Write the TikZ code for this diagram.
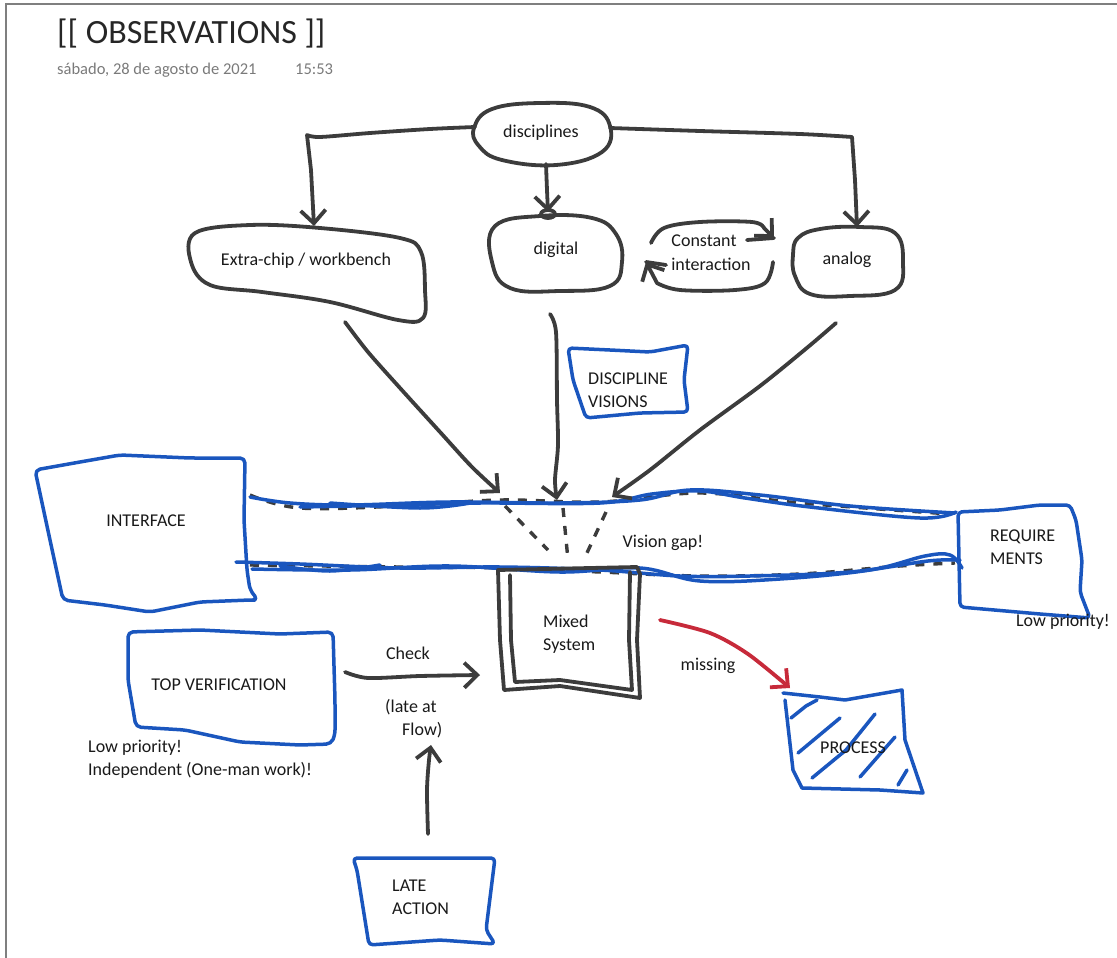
\documentclass[tikz,border=0pt]{standalone}
\usepackage{fontspec}
\setmainfont{Carlito}
\usetikzlibrary{arrows.meta}
\definecolor{ink}{HTML}{3C3C3C}
\definecolor{pen}{HTML}{1A56BE}
\definecolor{redpen}{HTML}{C72A3A}
\definecolor{framegray}{HTML}{7F7F7F}
\definecolor{dategray}{HTML}{7A7A7A}
\begin{document}
\begin{tikzpicture}[x=1pt,y=-1pt,
  inkline/.style={draw=ink,line width=3.8pt,line cap=round,line join=round},
  blueline/.style={draw=pen,line width=3.5pt,line cap=round,line join=round},
  redline/.style={draw=redpen,line width=3.8pt,line cap=round,line join=round},
  inkdash/.style={draw=ink,line width=3.4pt,dash pattern=on 9pt off 9pt},
  barb/.style={-{Straight Barb[length=13pt,width=25pt]}},
  lbl/.style={font=\fontsize{18}{22.5}\selectfont,text=black!90,inner sep=0pt,align=left},
]
\useasboundingbox (0,0) rectangle (1117,958);

% page frame
\draw[framegray,line width=1.8pt] (6,958) -- (6,4) -- (1117,4);

% heading
\node[anchor=base west,inner sep=0pt,font=\fontsize{34}{40}\selectfont,text=black!85] (title) at (57,44) {[[ OBSERVATIONS ]]};
\node[anchor=base west,inner sep=0pt,font=\fontsize{16.5}{20}\selectfont,text=dategray] (date) at (57,75) {sábado, 28 de agosto de 2021};
\node[anchor=base west,inner sep=0pt,font=\fontsize{16.5}{20}\selectfont,text=dategray] (time) at (295,75) {15:53};

% ---- disciplines and the three branches
\draw[inkline] plot[smooth cycle,tension=0.7] coordinates {(474,128) (492,109) (540,103) (590,107) (610,126) (602,152) (556,165) (502,160) (479,146)};
\node[lbl] (disc) at (541,133) {disciplines};
\coordinate (discW) at (475,127);
\coordinate (discS) at (546,164);
\coordinate (discE) at (610,128);

\draw[inkline] plot[smooth cycle,tension=0.6] coordinates {(195,233) (250,225) (320,228) (400,238) (421,252) (425,290) (423,318) (398,320) (330,302) (262,292) (210,285) (191,262)};
\node[lbl] (xchip) at (306,261) {Extra-chip / workbench};
\coordinate (xchipN) at (314,226);

\draw[inkline] plot[smooth cycle,tension=0.7] coordinates {(495,226) (540,216) (592,218) (616,234) (622,262) (610,286) (560,291) (510,288) (492,262)};
\draw[inkline] (548,214) ellipse (7 and 4);
\node[lbl] (dig) at (556,250) {digital};
\coordinate (digN) at (548,212);

\draw[inkline] plot[smooth cycle,tension=0.7] coordinates {(798,238) (820,229) (860,227) (895,233) (903,262) (895,290) (850,296) (810,294) (795,276) (793,255)};
\node[lbl] (ana) at (847,260) {analog};
\coordinate (anaN) at (857,227);

\draw[inkline,barb] plot[smooth,tension=0.5] coordinates {(discW) (430,129) (370,133) (320,137) (307,135)} -- (311,170) -- (xchipN);
\draw[inkline,barb] plot[smooth,tension=0.5] coordinates {(discS) (547,190) (548,212)};
\draw[inkline,barb] plot[smooth,tension=0.5] coordinates {(discE) (700,131) (800,134) (852,137)} -- (855,180) -- (anaN);

% constant interaction between digital and analog
\node[lbl] (cons) at (704,241) {Constant};
\node[lbl] (inter) at (711,264) {interaction};
\coordinate (loopA) at (651,243);
\coordinate (loopB) at (774,238);
\coordinate (loopC) at (773,262);
\coordinate (loopD) at (646,262);
\draw[inkline,barb] plot[smooth,tension=0.6] coordinates {(loopA) (664,228) (700,222) (752,222) (764,228)} -- (loopB);
\draw[inkline] (747,240) -- (loopB);
\draw[inkline,barb] plot[smooth,tension=0.6] coordinates {(loopC) (765,283) (735,290) (680,290) (657,283)} -- (loopD);
\draw[inkline] (666,265) -- (loopD);

% ---- the vision gap band between INTERFACE and REQUIREMENTS
% dark dashed rails under the blue strokes
\draw[inkdash] plot[smooth,tension=0.6] coordinates {(250,495) (300,508) (400,506) (500,500) (600,502) (700,493) (800,503) (950,514)};
\draw[inkdash] plot[smooth,tension=0.6] coordinates {(250,565) (400,567) (500,568) (600,572) (700,576) (800,574) (900,566) (955,563)};
% blue strokes
\draw[blueline] plot[smooth,tension=0.6] coordinates {(250,497) (290,503) (350,505) (450,502) (560,503) (640,500) (690,490) (760,495) (850,506) (955,513)};
\draw[blueline] plot[smooth,tension=0.6] coordinates {(300,507) (400,505) (480,503) (600,503) (652,494) (700,491) (745,498) (810,507) (920,518) (956,512)};
\draw[blueline] plot[smooth,tension=0.6] coordinates {(330,503) (420,508) (470,503)};
\draw[blueline] plot[smooth,tension=0.6] coordinates {(236,562) (300,564) (400,568) (500,567) (600,570) (680,576) (750,576) (850,572) (928,561) (960,560)};
\draw[blueline] plot[smooth,tension=0.6] coordinates {(252,569) (350,570) (450,566) (560,572) (640,568) (700,581) (780,579) (870,570) (925,556) (950,555) (962,568)};
\draw[blueline] plot[smooth,tension=0.6] coordinates {(280,566) (330,571) (380,565)};
\node[lbl] (gap) at (663,543) {Vision gap!};

% INTERFACE
\draw[blueline,rounded corners=5pt] (35,470) -- (80,462) -- (120,455) -- (190,458) -- (245,458) -- (244,520) -- (247,570) -- (250,590) -- (258,600) -- (250,600) -- (200,602) -- (150,612) -- (105,605) -- (63,600) -- (50,540) -- cycle;
\node[lbl] (iface) at (146,521) {INTERFACE};

% REQUIREMENTS
\draw[blueline,rounded corners=4pt] (958,512) -- (1000,510) -- (1040,505) -- (1070,505) -- (1076,520) -- (1082,560) -- (1080,592) -- (1090,618) -- (1040,614) -- (960,607) -- cycle;
\node[lbl,anchor=base west] (req) at (990,564) {REQUIRE\\MENTS};
\node[lbl] (reqlow) at (1063,622) {Low priority!};

% ---- converging discipline visions
\coordinate (xchipS) at (345,322);
\coordinate (digS) at (550,314);
\coordinate (anaS) at (836,323);
\coordinate (gapL) at (500,493);
\coordinate (gapM) at (557,500);
\coordinate (gapR) at (612,497);
\draw[inkline,barb] plot[smooth,tension=0.5] coordinates {(xchipS) (368,352) (400,388) (440,432) (472,467) (gapL)};
\draw[inkline,barb] plot[smooth,tension=0.5] coordinates {(digS) (556,332) (557,400) (558,445) (555,480) (gapM)};
\draw[inkline,barb] plot[smooth,tension=0.5] coordinates {(anaS) (808,347) (760,386) (700,430) (650,470) (gapR)};
\draw[inkdash] (505,506) -- (548,550);
\draw[inkdash] (563,508) -- (568,560);
\draw[inkdash] (606,512) -- (586,555);

\draw[blueline,rounded corners=4pt] (568,348) -- (610,350) -- (650,352) -- (688,345) -- (684,380) -- (688,412) -- (640,413) -- (586,418) -- (573,380) -- cycle;
\node[lbl,anchor=base west] (dv) at (588,407) {DISCIPLINE\\VISIONS};

% ---- Mixed System
\draw[inkline] (498,570) -- (500,640) -- (504,690) -- (560,686) -- (640,698) -- (637,640) -- (640,574) -- (637,567) -- cycle;
\draw[inkline] (510,575) -- (511,640) -- (515,682) -- (560,680) -- (632,690) -- (629,640) -- (630,572);
\node[lbl,anchor=base west] (mixed) at (543,650) {Mixed\\System};
\coordinate (mixW) at (480,675);
\coordinate (mixE) at (660,620);

% ---- TOP VERIFICATION
\draw[blueline,rounded corners=5pt] (128,632) -- (200,630) -- (280,634) -- (333,632) -- (335,700) -- (335,735) -- (331,744) -- (300,745) -- (240,742) -- (185,730) -- (136,727) -- (128,680) -- cycle;
\node[lbl] (topv) at (219,685) {TOP VERIFICATION};
\coordinate (topvE) at (345,672);
\node[lbl,anchor=base west] (topvlow) at (88,775) {Low priority!\\Independent (One-man work)!};

\draw[inkline,barb] plot[smooth,tension=0.5] coordinates {(topvE) (368,678) (420,676) (mixW)};
\node[lbl] (check) at (408,653) {Check};
\node[lbl,anchor=base west] (late) at (385,735) {(late at\\\hspace*{17pt}Flow)};

% ---- LATE ACTION
\draw[blueline,rounded corners=4pt] (353,858) -- (495,858) -- (486,930) -- (495,944) -- (440,940) -- (369,945) -- (357,870) -- cycle;
\node[lbl,anchor=base west] (lateact) at (392,914) {LATE\\ACTION};
\coordinate (lateN) at (428,834);
\coordinate (lateTip) at (431,745);
\draw[inkline,barb] plot[smooth,tension=0.5] coordinates {(lateN) (427,790) (429,760) (lateTip)};

% ---- PROCESS
\draw[blueline] (783,693) -- (820,697) -- (845,700) -- (902,690) -- (905,740) -- (923,793) -- (880,790) -- (802,788) -- (793,770) -- (785,700);
\draw[blueline] (791,718) -- (806,706) -- (817,700);
\draw[blueline] (798,753) -- (840,718);
\draw[blueline] (812,778) -- (846,750) -- (875,714);
\draw[blueline] (860,777) -- (895,737);
\draw[blueline] (898,785) -- (907,770);
\node[lbl] (proc) at (853,748) {PROCESS};
\coordinate (procN) at (790,688);
\draw[redline,barb] plot[smooth,tension=0.5] coordinates {(mixE) (710,633) (748,654) (procN)};
\node[lbl] (miss) at (708,666) {missing};

\end{tikzpicture}
\end{document}
